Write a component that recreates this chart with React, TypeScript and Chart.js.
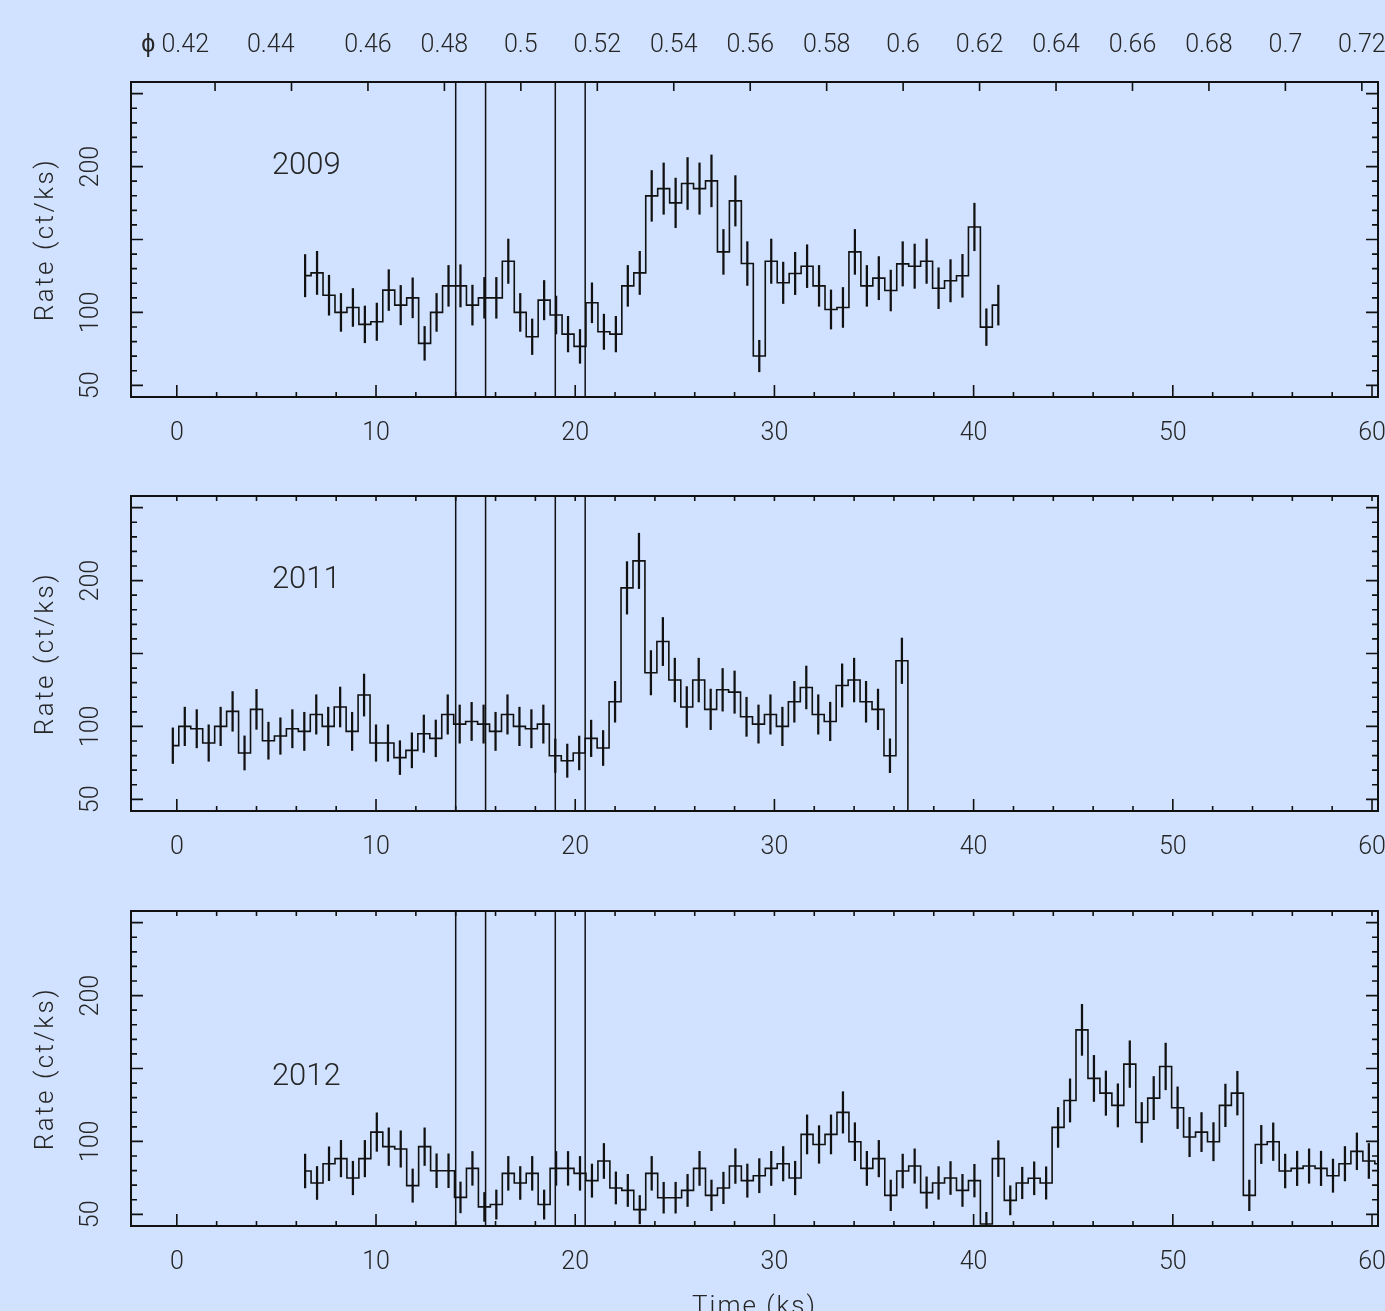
import React, { useEffect, useRef } from 'react';
import { Chart, registerables } from 'chart.js';

Chart.register(...registerables);

// ---------- data (count rate in ct/ks, 0.6 ks bins) ----------
const BIN_WIDTH_KS = 0.6;
const START_2009_KS = 6.44;
const START_2011_KS = -0.2;
const START_2012_KS = 6.44;

const RATE_2009 = [
  125.2, 127.1, 111.8, 100.0, 103.4, 91.8, 93.6, 115.3, 105.0, 110.0,
  78.8, 100.0, 118.2, 118.2, 105.0, 110.0, 110.0, 135.1, 100.0, 83.3,
  108.4, 98.2, 85.1, 76.7, 106.6, 86.7, 85.1, 118.2, 127.1, 179.9,
  184.9, 175.1, 188.4, 184.9, 190.2, 141.5, 176.5, 133.5, 70.1, 135.1,
  120.3, 126.7, 131.7, 118.2, 102.0, 103.4, 141.5, 118.2, 123.5, 115.0,
  133.3, 131.7, 135.1, 116.6, 121.7, 125.1, 158.6, 89.9, 105.0,
];
const ERR_2009 = [
  14.5, 14.8, 13.7, 13.0, 13.0, 12.6, 12.8, 14.0, 13.5, 13.7,
  11.6, 13.0, 14.0, 14.5, 13.7, 14.0, 14.0, 15.2, 13.0, 12.2,
  13.5, 13.0, 12.2, 11.6, 13.7, 12.1, 12.2, 14.0, 14.8, 17.4,
  17.6, 17.0, 17.8, 17.6, 17.8, 15.4, 17.3, 15.0, 10.8, 15.2,
  14.2, 14.5, 14.7, 14.0, 13.4, 13.7, 15.4, 14.0, 14.8, 14.0,
  15.2, 15.2, 15.2, 14.0, 14.5, 14.7, 16.3, 12.6, 13.7,
];

const RATE_2011 = [
  86.8, 100.0, 98.4, 88.6, 100.0, 110.3, 81.8, 111.7, 90.2, 93.4,
  98.4, 96.6, 108.2, 100.0, 113.3, 96.6, 121.5, 88.6, 88.6, 78.6,
  83.6, 95.0, 91.8, 108.2, 101.6, 103.4, 101.6, 96.6, 108.2, 100.0,
  98.4, 101.6, 79.9, 76.5, 81.8, 91.8, 85.2, 116.9, 195.0, 213.5,
  136.8, 158.2, 131.8, 113.3, 131.8, 111.7, 125.1, 123.5, 106.6, 101.6,
  108.2, 100.0, 116.9, 126.7, 108.2, 103.4, 128.1, 131.8, 116.9, 111.7,
  79.9, 145.0, 0,
];
const ERR_2011 = [
  12.2, 13.2, 13.1, 12.5, 13.2, 13.6, 11.7, 13.7, 12.7, 12.5,
  13.1, 13.1, 13.5, 13.2, 13.7, 13.1, 14.4, 12.5, 12.5, 11.6,
  12.0, 12.8, 12.6, 13.5, 13.1, 13.1, 13.1, 13.1, 13.5, 13.2,
  13.1, 13.1, 11.5, 11.4, 11.6, 12.5, 12.0, 14.0, 18.0, 19.0,
  15.2, 16.5, 15.0, 14.0, 15.0, 13.9, 14.6, 14.5, 13.4, 13.1,
  13.5, 13.2, 14.0, 14.7, 13.5, 13.2, 14.8, 15.0, 14.0, 13.9,
  11.6, 15.6, 0,
];

const RATE_2012 = [
  79.7, 71.5, 84.7, 88.2, 74.9, 88.2, 106.4, 96.4, 94.8, 69.7,
  96.4, 79.9, 79.9, 61.6, 81.5, 55.1, 56.7, 78.1, 71.5, 78.1,
  56.7, 81.5, 81.5, 78.1, 73.1, 86.6, 68.1, 66.4, 53.2, 78.1,
  61.4, 61.4, 66.4, 81.5, 63.0, 68.1, 83.1, 73.1, 76.5, 81.5,
  84.7, 74.9, 104.8, 97.9, 104.8, 119.9, 99.8, 81.5, 88.2, 63.0,
  79.7, 83.1, 64.9, 71.5, 74.9, 66.4, 73.1, 43.4, 88.2, 59.6,
  71.5, 74.7, 71.5, 109.6, 128.1, 176.5, 143.2, 133.1, 124.7, 153.0,
  113.0, 129.7, 151.4, 123.1, 103.0, 106.4, 99.8, 124.7, 133.1, 63.0,
  97.9, 99.8, 79.7, 81.5, 83.1, 81.5, 76.5, 84.7, 93.2, 86.6,
  84.7,
];
const ERR_2012 = [
  11.6, 11.3, 11.6, 12.5, 11.5, 12.5, 13.2, 12.9, 12.5, 11.4,
  12.9, 11.6, 11.6, 10.6, 11.6, 9.9, 10.0, 11.6, 11.3, 11.6,
  10.0, 11.6, 11.6, 11.6, 11.4, 12.0, 11.0, 11.0, 9.7, 11.6,
  10.6, 10.6, 11.0, 11.7, 10.5, 10.8, 11.9, 11.4, 11.7, 11.7,
  11.8, 11.5, 13.4, 12.9, 13.4, 14.2, 13.0, 11.7, 12.5, 10.5,
  11.6, 11.8, 10.8, 11.2, 11.3, 11.0, 11.2, 8.0, 12.3, 10.0,
  10.8, 11.3, 11.1, 13.7, 14.8, 17.5, 15.8, 15.2, 14.8, 16.0,
  13.7, 14.8, 16.0, 14.3, 13.5, 13.4, 13.1, 14.6, 15.0, 10.5,
  13.1, 12.9, 11.6, 11.8, 11.8, 11.8, 11.4, 11.8, 12.6, 12.0,
  12.0,
];

// reference times marked by vertical lines (ks)
const MARKER_TIMES_KS = [14.0, 15.5, 19.0, 20.5];

// axis values
const X_MIN = -2.3;
const X_MAX = 60.3;
const Y_MIN = 42;
const Y_MAX = 258;
const X_TICK_LABELS = [0, 10, 20, 30, 40, 50, 60];
const Y_TICK_LABELS = [50, 100, 200];
const PHASE_TICKS = [0.42, 0.44, 0.46, 0.48, 0.5, 0.52, 0.54, 0.56, 0.58, 0.6, 0.62, 0.64, 0.66, 0.68, 0.7, 0.72];
const PHASE_LABELS = ['ϕ 0.42', '0.44', '0.46', '0.48', '0.5', '0.52', '0.54', '0.56', '0.58', '0.6', '0.62', '0.64', '0.66', '0.68', '0.7', '0.72'];
const PHASE_AT_T0 = 0.41;
const PERIOD_KS = 191.9;

// ---------- style ----------
const BG = '#d0e2ff';
const INK = '#111111';
const TEXT = '#262626';
const FAMILY = 'Roboto, "Liberation Sans", sans-serif';
const W = 1385;
const X_AXIS_BAND = 52;

type PanelSpec = {
  year: string;
  start: number;
  rates: number[];
  errs: number[];
  top: number;
  height: number;
  areaTop: number;
  areaBottom: number;
  yearAt: number;
  phaseAxis: boolean;
  timeTitle: boolean;
};

const PANELS: PanelSpec[] = [
  { year: '2009', start: START_2009_KS, rates: RATE_2009, errs: ERR_2009, top: 0, height: 460, areaTop: 82, areaBottom: 397, yearAt: 200, phaseAxis: true, timeTitle: false },
  { year: '2011', start: START_2011_KS, rates: RATE_2011, errs: ERR_2011, top: 460, height: 410, areaTop: 496, areaBottom: 811, yearAt: 200, phaseAxis: false, timeTitle: false },
  { year: '2012', start: START_2012_KS, rates: RATE_2012, errs: ERR_2012, top: 870, height: 441, areaTop: 911, areaBottom: 1226, yearAt: 144, phaseAxis: false, timeTitle: true },
];

function drawText(
  ctx: CanvasRenderingContext2D,
  s: string,
  x: number,
  y: number,
  size: number,
  align: CanvasTextAlign = 'center',
  rotate = 0,
  spacing = 0,
  baseline: CanvasTextBaseline = 'middle'
) {
  ctx.save();
  ctx.translate(x, y);
  if (rotate) ctx.rotate(rotate);
  ctx.font = `300 ${size}px ${FAMILY}`;
  (ctx as any).letterSpacing = `${spacing}px`;
  ctx.fillStyle = TEXT;
  ctx.textAlign = align;
  ctx.textBaseline = baseline;
  ctx.fillText(s, 0, 0);
  ctx.restore();
}

function makeDecor(spec: PanelSpec) {
  return {
    id: 'decor' + spec.year,
    afterDraw(chart: any) {
      const { ctx, chartArea: a, scales } = chart;
      const xs = scales.x;
      const ys = scales.y;
      ctx.save();
      ctx.strokeStyle = INK;
      ctx.lineWidth = 1.6;
      ctx.beginPath();
      // bottom ticks (and top ticks for the lower panels)
      for (let t = 0; t <= 60; t += 2) {
        const px = xs.getPixelForValue(t);
        const len = t % 10 === 0 ? 12 : 5;
        ctx.moveTo(px, a.bottom);
        ctx.lineTo(px, a.bottom - len);
        if (!spec.phaseAxis) {
          ctx.moveTo(px, a.top);
          ctx.lineTo(px, a.top + 5);
        }
      }
      // orbital phase ticks on the top panel
      if (spec.phaseAxis) {
        PHASE_TICKS.forEach((p) => {
          const px = xs.getPixelForValue((p - PHASE_AT_T0) * PERIOD_KS);
          ctx.moveTo(px, a.top);
          ctx.lineTo(px, a.top + 9);
        });
      }
      // y ticks left and right
      for (let v = 50; v <= 250; v += 10) {
        const py = ys.getPixelForValue(v);
        const len = v % 50 === 0 ? 12 : 6;
        ctx.moveTo(a.left, py);
        ctx.lineTo(a.left + len, py);
        ctx.moveTo(a.right, py);
        ctx.lineTo(a.right - len, py);
      }
      ctx.stroke();
      ctx.restore();

      // y tick labels (rotated)
      Y_TICK_LABELS.forEach((v) => {
        drawText(ctx, String(v), 92, ys.getPixelForValue(v), 25, 'center', -Math.PI / 2);
      });
      // y title
      drawText(ctx, 'Rate (ct/ks)', 46, (a.top + a.bottom) / 2, 26, 'center', -Math.PI / 2, 2.5);
      // year label
      drawText(ctx, spec.year, xs.getPixelForValue(6.5), ys.getPixelForValue(spec.yearAt), 31, 'center');
      // phase labels
      if (spec.phaseAxis) {
        PHASE_TICKS.forEach((p, i) => {
          const px = xs.getPixelForValue((p - PHASE_AT_T0) * PERIOD_KS);
          if (i === 0) drawText(ctx, PHASE_LABELS[i], px - 6, 46, 25, 'right');
          else if (i === 1) drawText(ctx, PHASE_LABELS[i], px + 3, 46, 25, 'right');
          else drawText(ctx, PHASE_LABELS[i], px, 46, 25, 'center');
        });
      }
      if (spec.timeTitle) {
        drawText(ctx, 'Time (ks)', (a.left + a.right) / 2, a.bottom + 88, 26, 'center', 0, 2, 'alphabetic');
      }
    },
  };
}

function Panel({ spec }: { spec: PanelSpec }) {
  const ref = useRef<HTMLCanvasElement | null>(null);

  useEffect(() => {
    const canvas = ref.current;
    if (!canvas) return;
    const times = spec.rates.map((_, i) => spec.start + i * BIN_WIDTH_KS);
    const stepData = spec.rates.map((r, i) => ({ x: times[i], y: r }));
    const errData = spec.rates
      .map((r, i) => ({ x: times[i], y: [r - spec.errs[i], r + spec.errs[i]], e: spec.errs[i] }))
      .filter((d) => d.e > 0)
      .map((d) => ({ x: d.x, y: d.y }));

    const datasets: any[] = [
      {
        type: 'bar',
        data: errData,
        backgroundColor: INK,
        borderWidth: 0,
        barThickness: 1.6,
        grouped: false,
        order: 2,
      },
      {
        type: 'line',
        data: stepData,
        stepped: 'middle',
        borderColor: INK,
        borderWidth: 1.6,
        pointRadius: 0,
        fill: false,
        order: 1,
      },
      ...MARKER_TIMES_KS.map((t) => ({
        type: 'line',
        data: [
          { x: t, y: Y_MIN },
          { x: t, y: Y_MAX },
        ],
        borderColor: INK,
        borderWidth: 1.5,
        pointRadius: 0,
        fill: false,
        order: 0,
      })),
    ];

    const hidden = { display: false, drawTicks: false };
    const border = { display: true, color: INK, width: 2 };
    const fixH = (h: number) => (s: any) => {
      s.height = h;
      s.paddingLeft = 0;
      s.paddingRight = 0;
      s.paddingTop = 0;
      s.paddingBottom = 0;
    };
    const zeroW = (s: any) => {
      s.width = 0;
      s.paddingLeft = 0;
      s.paddingRight = 0;
      s.paddingTop = 0;
      s.paddingBottom = 0;
    };

    const chart = new Chart(canvas, {
      type: 'line',
      data: { datasets },
      options: {
        animation: false,
        responsive: false,
        devicePixelRatio: 1,
        events: [],
        layout: {
          padding: {
            left: 131,
            right: W - 1378,
            top: spec.areaTop - spec.top,
            bottom: spec.top + spec.height - spec.areaBottom - X_AXIS_BAND,
          },
        },
        plugins: { legend: { display: false }, tooltip: { enabled: false } },
        scales: {
          x: {
            type: 'linear',
            position: 'bottom',
            min: X_MIN,
            max: X_MAX,
            offset: false,
            grid: hidden,
            border,
            ticks: {
              autoSkip: false,
              maxRotation: 0,
              minRotation: 0,
              padding: 22,
              color: TEXT,
              font: { family: FAMILY, size: 25, weight: '300' as any },
            },
            afterBuildTicks: (s: any) => {
              s.ticks = X_TICK_LABELS.map((v) => ({ value: v }));
            },
            afterFit: fixH(X_AXIS_BAND),
          },
          xTop: {
            type: 'linear',
            position: 'top',
            min: X_MIN,
            max: X_MAX,
            grid: hidden,
            border,
            ticks: { display: false },
            afterFit: fixH(0),
          },
          y: {
            type: 'linear',
            position: 'left',
            min: Y_MIN,
            max: Y_MAX,
            grid: hidden,
            border,
            ticks: { display: false },
            afterFit: zeroW,
          },
          yRight: {
            type: 'linear',
            position: 'right',
            min: Y_MIN,
            max: Y_MAX,
            grid: hidden,
            border,
            ticks: { display: false },
            afterFit: zeroW,
          },
        } as any,
      },
      plugins: [makeDecor(spec)],
    });
    return () => chart.destroy();
  }, [spec]);

  return (
    <canvas
      ref={ref}
      width={W}
      height={spec.height}
      style={{ position: 'absolute', left: 0, top: spec.top, width: W, height: spec.height, display: 'block' }}
    />
  );
}

export default function App() {
  return (
    <div
      style={{
        position: 'absolute',
        left: 0,
        top: 0,
        width: W,
        height: 1311,
        background: BG,
        overflow: 'hidden',
      }}
    >
      {PANELS.map((p) => (
        <Panel key={p.year} spec={p} />
      ))}
    </div>
  );
}
